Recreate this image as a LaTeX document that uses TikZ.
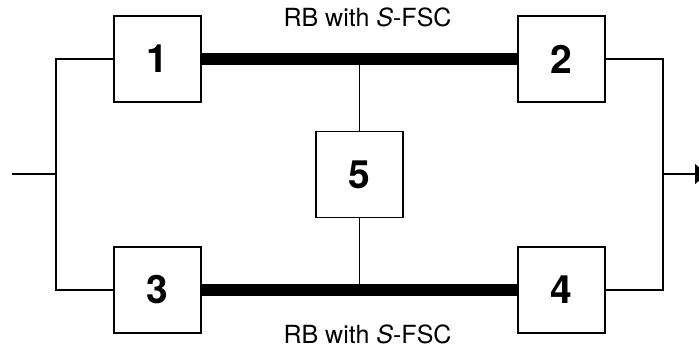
\documentclass[tikz,border=0pt]{standalone}
\usepackage{fontspec}
\setmainfont{TeX Gyre Heros}
\usetikzlibrary{arrows.meta}
\begin{document}
\begin{tikzpicture}[x=1pt,y=-1pt,
  unit/.style={draw,line width=1.8pt,minimum width=87pt,minimum height=86pt,
    inner sep=0pt,font=\fontsize{39}{44}\selectfont\bfseries},
  wire/.style={line width=1.8pt},
  bridge/.style={line width=12pt},
  rblabel/.style={font=\fontsize{25}{30}\selectfont,inner sep=0pt}]
\useasboundingbox (0,0) rectangle (699,349);
\clip (0,0) rectangle (699,349);

% components
\node[unit] (b1) at (157.5,59) {1};
\node[unit] (b2) at (561.5,59) {2};
\node[unit] (b3) at (157.5,290) {3};
\node[unit] (b4) at (561.5,290) {4};
\node[unit] (b5) at (359.5,174.5) {5};

% branch points
\coordinate (in)  at (12,174);
\coordinate (lj)  at (56,174);
\coordinate (lt)  at (56,59);
\coordinate (lb)  at (56,290);
\coordinate (rj)  at (663,174);
\coordinate (rt)  at (663,59);
\coordinate (rb)  at (663,290);
\coordinate (out) at (710,174);
\coordinate (jt)  at (359.5,59);
\coordinate (jb)  at (359.5,290);

% input side
\draw[wire] (in) -- (lj);
\draw[wire] (b1.west) -- (lt) -- (lb) -- (b3.west);

% output side
\draw[wire] (b2.east) -- (rt) -- (rb) -- (b4.east);
\draw[wire,-{Latex[length=15pt,width=21pt]}] (rj) -- (out);

% bridges with S-FSC
\draw[bridge] (b1.east) -- (b2.west);
\draw[bridge] (b3.east) -- (b4.west);
\draw[wire] (jt) -- (b5.north);
\draw[wire] (b5.south) -- (jb);

% labels
\node[rblabel,anchor=base] (lt1) at (367.5,26) {RB with \textit{S}-FSC};
\node[rblabel,anchor=base] (lt2) at (367.5,343) {RB with \textit{S}-FSC};
\end{tikzpicture}
\end{document}
